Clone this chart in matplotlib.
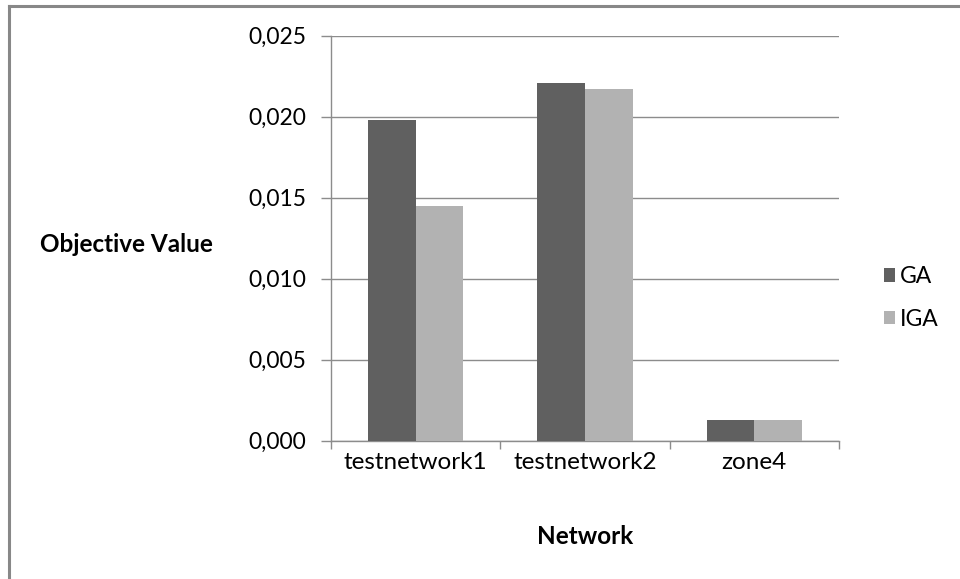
import matplotlib.pyplot as plt
from matplotlib.lines import Line2D
from matplotlib.ticker import FuncFormatter, FixedLocator, NullFormatter
import numpy as np

plt.rcParams['font.family'] = ['Lato', 'DejaVu Sans']

# Objective value per network
networks = ["testnetwork1", "testnetwork2", "zone4"]
ga_values = [0.0198, 0.0221, 0.0013]
iga_values = [0.0145, 0.0217, 0.0013]

GA_COLOR = "#606060"
IGA_COLOR = "#b2b2b2"
GRID = "#8c8c8c"
FS = 16.5

fig = plt.figure(figsize=(9.6, 5.79), dpi=100)
ax = fig.add_axes([331 / 960, 1 - 440.7 / 579, 508 / 960, 405 / 579])

centers = np.arange(len(networks)) + 0.5
w = 48 / 170
ax.bar(centers - w / 2, ga_values, width=w, color=GA_COLOR, label="GA", zorder=3)
ax.bar(centers + w / 2, iga_values, width=w, color=IGA_COLOR, label="IGA", zorder=3)

ax.set_xlim(0, len(networks))
ax.set_ylim(0, 0.025)
ax.set_yticks(np.arange(0, 0.0251, 0.005))
ax.yaxis.set_major_formatter(FuncFormatter(lambda v, p: f"{v:.3f}".replace(".", ",")))
ax.grid(axis="y", color=GRID, linewidth=1, zorder=0)

# category boundaries carry the tick marks, names sit in between
ax.xaxis.set_major_locator(FixedLocator(np.arange(len(networks) + 1)))
ax.xaxis.set_major_formatter(NullFormatter())
ax.xaxis.set_minor_locator(FixedLocator(centers))
ax.set_xticklabels(networks, minor=True)
ax.tick_params(axis="x", which="minor", length=0, pad=8, labelsize=17.5)
ax.tick_params(axis="x", which="major", length=6, color=GRID, width=1)
ax.tick_params(axis="y", length=7, color=GRID, width=1, pad=11, labelsize=FS)

for side in ("top", "right"):
    ax.spines[side].set_visible(False)
for side in ("left", "bottom"):
    ax.spines[side].set_color(GRID)
    ax.spines[side].set_linewidth(1)

fig.text(126 / 960, 1 - 245 / 579, "Objective Value", ha="center", va="center",
         fontsize=17.5, fontweight="bold")
fig.text(585 / 960, 1 - 537 / 579, "Network", ha="center", va="center",
         fontsize=17.5, fontweight="bold")

ax.legend(loc="center left", bbox_to_anchor=(884 / 960, 1 - 298 / 579),
          bbox_transform=fig.transFigure, frameon=False, fontsize=FS,
          handlelength=0.5, handleheight=0.5, handletextpad=0.2, labelspacing=0.95,
          borderpad=0, borderaxespad=0)

# chart frame on the left and top edges
fig.add_artist(Line2D([9 / 960, 9 / 960], [0, 1 - 6 / 579], transform=fig.transFigure,
                      color="#888888", linewidth=2.2))
fig.add_artist(Line2D([9 / 960, 1], [1 - 6 / 579, 1 - 6 / 579], transform=fig.transFigure,
                      color="#888888", linewidth=2.2))

fig.savefig("out.png", dpi=100)
